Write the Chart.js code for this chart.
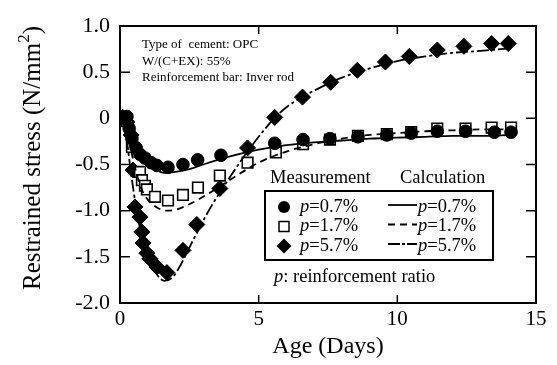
<!DOCTYPE html>
<html>
<head>
<meta charset="utf-8">
<script src="https://cdn.jsdelivr.net/npm/chart.js@4.4.1/dist/chart.umd.min.js"></script>
<style>
  body { margin: 0; background: #fff; }
  #wrap { width: 557px; height: 365px; }
</style>
</head>
<body>
<div id="wrap"><canvas id="c" width="557" height="365"></canvas></div>
<script>
// measured points (age in days, stress in N/mm2)
const ageP07 = [0.1, 0.25, 0.33, 0.43, 0.58, 0.72, 0.9, 1.12, 1.33, 1.73, 2.27, 2.8, 3.64, 5.58, 6.6, 7.57, 8.58, 9.62, 10.5, 11.44, 12.46, 13.5, 14.1];
const measP07 = [0.01, 0.02, -0.11, -0.22, -0.32, -0.39, -0.43, -0.48, -0.51, -0.53, -0.5, -0.45, -0.4, -0.27, -0.23, -0.22, -0.2, -0.18, -0.16, -0.14, -0.14, -0.15, -0.15];

const ageP17 = [0.1, 0.25, 0.43, 0.72, 0.79, 0.9, 0.97, 1.26, 1.73, 2.27, 2.81, 3.6, 4.6, 5.62, 6.6, 7.57, 8.58, 9.62, 10.5, 11.44, 12.46, 13.4, 14.1];
const measP17 = [0.01, -0.03, -0.31, -0.58, -0.67, -0.73, -0.77, -0.85, -0.89, -0.83, -0.75, -0.62, -0.48, -0.37, -0.28, -0.23, -0.19, -0.17, -0.15, -0.11, -0.11, -0.1, -0.1];

const ageP57 = [0.1, 0.25, 0.4, 0.47, 0.54, 0.72, 0.79, 0.83, 0.97, 1.08, 1.33, 1.69, 2.27, 2.77, 3.6, 4.6, 5.58, 6.58, 7.6, 8.56, 9.57, 10.43, 11.44, 12.4, 13.4, 14.0];
const measP57 = [0.01, -0.04, -0.18, -0.56, -0.96, -1.07, -1.23, -1.35, -1.46, -1.52, -1.61, -1.67, -1.43, -1.15, -0.76, -0.32, 0.01, 0.23, 0.39, 0.52, 0.61, 0.67, 0.74, 0.78, 0.81, 0.81];

// calculated curves
const ageC07 = [0, 0.2, 0.4, 0.6, 0.8, 1.0, 1.3, 1.6, 2.0, 2.5, 3, 4, 5, 6, 7, 8, 9, 10, 11, 12, 13, 14.1];
const calcP07 = [0, -0.05, -0.2, -0.33, -0.43, -0.5, -0.56, -0.59, -0.58, -0.55, -0.5, -0.41, -0.34, -0.29, -0.26, -0.24, -0.22, -0.21, -0.2, -0.19, -0.19, -0.18];

const ageC17 = [0, 0.2, 0.4, 0.6, 0.8, 1.0, 1.3, 1.7, 2.0, 2.5, 3, 4, 5, 6, 7, 8, 9, 10, 11, 12, 13, 14.1];
const calcP17 = [0, -0.08, -0.35, -0.6, -0.78, -0.88, -0.96, -1.0, -0.99, -0.93, -0.85, -0.66, -0.48, -0.36, -0.28, -0.22, -0.18, -0.16, -0.14, -0.13, -0.12, -0.12];

const ageC57 = [0, 0.2, 0.4, 0.6, 0.8, 1.0, 1.3, 1.6, 1.9, 2.2, 2.5, 3.2, 4, 4.5, 5, 5.5, 6, 6.5, 7, 8, 9, 10, 11, 12, 13, 14.1];
const calcP57 = [0, -0.15, -0.6, -1.0, -1.3, -1.5, -1.68, -1.76, -1.72, -1.58, -1.4, -1.0, -0.62, -0.4, -0.2, -0.02, 0.12, 0.22, 0.3, 0.44, 0.54, 0.62, 0.67, 0.71, 0.73, 0.76];

const xTicks = [0, 5, 10, 15];
const yTicks = [1.0, 0.5, 0, -0.5, -1.0, -1.5, -2.0];
const yTickLabels = ['1.0', '0.5', '0', '-0.5', '-1.0', '-1.5', '-2.0'];

const pts = (xs, ys) => xs.map((x, i) => ({ x: x, y: ys[i] }));
const SERIF = '"Liberation Serif", "Times New Roman", serif';

// frame, inward ticks, y title, notes and legend
const decor = {
    id: 'decor',
    afterDraw(chart) {
        const { ctx, chartArea: a, scales: { x, y } } = chart;
        ctx.save();
        ctx.strokeStyle = '#000';
        ctx.lineWidth = 2;
        ctx.strokeRect(a.left, a.top, a.right - a.left, a.bottom - a.top);
        ctx.lineWidth = 1.5;
        ctx.beginPath();
        yTicks.forEach(v => {
            const py = y.getPixelForValue(v);
            ctx.moveTo(a.left, py); ctx.lineTo(a.left + 10, py);
            ctx.moveTo(a.right, py); ctx.lineTo(a.right - 10, py);
        });
        xTicks.forEach(v => {
            const px = x.getPixelForValue(v);
            ctx.moveTo(px, a.bottom); ctx.lineTo(px, a.bottom - 8);
            ctx.moveTo(px, a.top); ctx.lineTo(px, a.top + 8);
        });
        ctx.stroke();

        // y axis title with superscript
        ctx.fillStyle = '#000';
        ctx.save();
        ctx.translate(40, 158);
        ctx.rotate(-Math.PI / 2);
        ctx.textBaseline = 'alphabetic';
        ctx.font = '25px ' + SERIF;
        const t1 = 'Restrained stress (N/mm';
        const w1 = ctx.measureText(t1).width;
        ctx.font = '17px ' + SERIF;
        const w2 = ctx.measureText('2').width;
        ctx.font = '25px ' + SERIF;
        const w3 = ctx.measureText(')').width;
        let sx = -(w1 + w2 + w3) / 2;
        ctx.fillText(t1, sx, 0);
        ctx.font = '17px ' + SERIF;
        ctx.fillText('2', sx + w1, -11);
        ctx.font = '25px ' + SERIF;
        ctx.fillText(')', sx + w1 + w2, 0);
        ctx.restore();

        // notes
        ctx.font = '13px ' + SERIF;
        ctx.textBaseline = 'middle';
        ctx.fillText('Type of  cement: OPC', 142, 45);
        ctx.fillText('W/(C+EX): 55%', 142, 61.5);
        ctx.fillText('Reinforcement bar: Inver rod', 142, 78);

        // legend
        ctx.font = '18.5px ' + SERIF;
        ctx.fillStyle = '#fff';
        ctx.fillRect(265, 191, 228, 69);
        ctx.fillStyle = '#000';
        ctx.fillText('Measurement', 270, 178);
        ctx.fillText('Calculation', 400, 178);
        ctx.lineWidth = 2;
        ctx.strokeRect(265, 191, 228, 69);
        const rows = [
            { label: '0.7%', dash: [], m: 'circle' },
            { label: '1.7%', dash: [7, 5], m: 'rect' },
            { label: '5.7%', dash: [12, 2, 3, 2], m: 'rectRot' }
        ];
        rows.forEach((r, i) => {
            const ry = 207 + i * 19.5;
            const mx = 284;
            ctx.lineWidth = 1.5;
            if (r.m === 'circle') {
                ctx.beginPath(); ctx.arc(mx, ry, 6, 0, Math.PI * 2); ctx.fill();
            } else if (r.m === 'rect') {
                ctx.fillStyle = '#fff';
                ctx.fillRect(mx - 5, ry - 5, 10, 10);
                ctx.strokeRect(mx - 5, ry - 5, 10, 10);
                ctx.fillStyle = '#000';
            } else {
                ctx.beginPath();
                ctx.moveTo(mx, ry - 7.5); ctx.lineTo(mx + 7.5, ry); ctx.lineTo(mx, ry + 7.5); ctx.lineTo(mx - 7.5, ry);
                ctx.closePath(); ctx.fill();
            }
            drawP(ctx, 300, ry, r.label);
            ctx.setLineDash(r.dash);
            ctx.lineWidth = 1.8;
            ctx.beginPath(); ctx.moveTo(388, ry - 2); ctx.lineTo(417, ry - 2); ctx.stroke();
            ctx.setLineDash([]);
            drawP(ctx, 418, ry, r.label);
        });
        ctx.font = 'italic 18.5px ' + SERIF;
        ctx.fillText('p', 274, 277);
        const pw = ctx.measureText('p').width;
        ctx.font = '18.5px ' + SERIF;
        ctx.fillText(': reinforcement ratio', 274 + pw, 277);
        ctx.restore();
    }
};

function drawP(ctx, px, py, val) {
    ctx.font = 'italic 18.5px ' + SERIF;
    ctx.fillText('p', px, py);
    const w = ctx.measureText('p').width;
    ctx.font = '18.5px ' + SERIF;
    ctx.fillText('=' + val, px + w, py);
}

const measStyle = {
    showLine: false,
    pointBackgroundColor: '#000',
    pointBorderColor: '#000',
    pointBorderWidth: 1
};
const calcStyle = {
    showLine: true,
    pointRadius: 0,
    borderColor: '#000',
    borderWidth: 1.8,
    tension: 0.4,
    cubicInterpolationMode: 'monotone'
};

const chart = new Chart(document.getElementById('c'), {
    type: 'scatter',
    data: {
        datasets: [
            { label: 'calc 0.7', data: pts(ageC07, calcP07), ...calcStyle },
            { label: 'calc 1.7', data: pts(ageC17, calcP17), ...calcStyle, borderDash: [7, 5] },
            { label: 'calc 5.7', data: pts(ageC57, calcP57), ...calcStyle, borderDash: [12, 3, 3, 3] },
            { label: 'p=0.7%', data: pts(ageP07, measP07), ...measStyle, pointStyle: 'circle', pointRadius: 6.3 },
            { label: 'p=1.7%', data: pts(ageP17, measP17), ...measStyle, pointStyle: 'rect', pointRadius: 7.5, pointBackgroundColor: '#fff', pointBorderWidth: 1.6 },
            { label: 'p=5.7%', data: pts(ageP57, measP57), ...measStyle, pointStyle: 'rectRot', pointRadius: 8 }
        ]
    },
    options: {
        responsive: false,
        animation: false,
        layout: { padding: { top: 26, right: 21, left: 0, bottom: 0 } },
        plugins: {
            legend: { display: false },
            tooltip: { enabled: false }
        },
        scales: {
            x: {
                type: 'linear',
                min: 0,
                max: 15,
                afterBuildTicks: s => { s.ticks = xTicks.map(v => ({ value: v })); },
                afterFit: s => { s.height = 62; },
                grid: { display: false, drawTicks: false },
                border: { display: false },
                ticks: { color: '#000', font: { family: SERIF, size: 21 }, padding: 4 },
                title: { display: true, text: 'Age (Days)', color: '#000', font: { family: SERIF, size: 24 }, padding: { top: 0 } }
            },
            y: {
                type: 'linear',
                min: -2,
                max: 1,
                afterBuildTicks: s => { s.ticks = yTicks.map(v => ({ value: v })); },
                afterFit: s => { s.width = 120; },
                grid: { display: false, drawTicks: false },
                border: { display: false },
                ticks: {
                    color: '#000',
                    font: { family: SERIF, size: 22 },
                    padding: 10,
                    callback: v => yTickLabels[yTicks.indexOf(v)]
                }
            }
        }
    },
    plugins: [decor]
});
</script>
</body>
</html>
